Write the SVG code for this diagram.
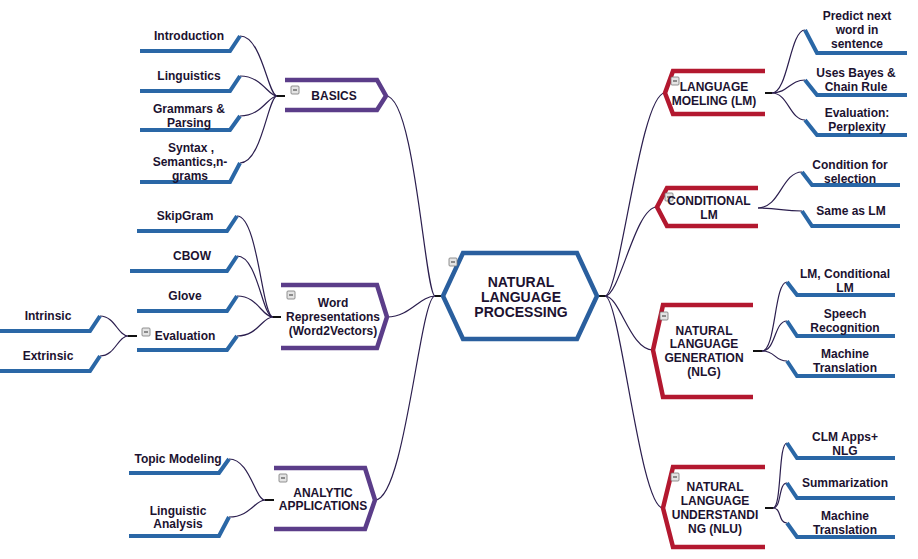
<svg xmlns="http://www.w3.org/2000/svg" width="918" height="559" viewBox="0 0 918 559">
<style>
text{font-family:"Liberation Sans",Arial,sans-serif;font-weight:bold;font-size:12px;fill:#1c1230;text-anchor:middle}
.big{font-size:14px}
.leaf{fill:none;stroke:#2a67a6;stroke-width:4;stroke-linejoin:miter}
.pur{fill:none;stroke:#5b3d89;stroke-width:4.5}
.red{fill:none;stroke:#b3182f;stroke-width:4.5}
.ctr{fill:#fff;stroke:#2a5f9e;stroke-width:4.5}
.con path{fill:none;stroke:#2b1e4e;stroke-width:1.2}
.stub{stroke:#111;stroke-width:2}
.ico{fill:#e4e4e4;stroke:#777;stroke-width:0.8}
.icol{stroke:#333;stroke-width:1}
</style>
<defs>
<g id="ic"><rect class="ico" x="0" y="0" width="8" height="8" rx="1"/><line class="icol" x1="2" y1="4" x2="6" y2="4"/></g>
</defs>
<g id="connectors" class="con">
<line class="stub" x1="435" y1="296" x2="443" y2="296"/>
<line class="stub" x1="597" y1="296" x2="605" y2="296"/>
<line class="stub" x1="277" y1="96" x2="285" y2="96"/>
<line class="stub" x1="273" y1="317" x2="281" y2="317"/>
<line class="stub" x1="128" y1="336" x2="137" y2="336"/>
<line class="stub" x1="265" y1="500" x2="274" y2="500"/>
<line class="stub" x1="765" y1="93" x2="772" y2="93"/>
<line class="stub" x1="753" y1="351" x2="762" y2="351"/>
<line class="stub" x1="765" y1="508" x2="773" y2="508"/>
<path d="M386 96 C415 96 425 296 435 296"/>
<path d="M387 317 C410 317 420 296 435 296"/>
<path d="M375 500 C405 500 420 296 435 296"/>
<path d="M605 296 C620 296 640 93 665 93"/>
<path d="M605 296 C620 296 635 207 657 207"/>
<path d="M605 296 C620 296 630 350 653 350"/>
<path d="M605 296 C620 296 640 508 663 508"/>
<path d="M240 36 C262 36 268 96 277 96"/>
<path d="M240 76 C262 76 268 96 277 96"/>
<path d="M240 116 C262 116 268 96 277 96"/>
<path d="M240 163 C262 163 268 96 277 96"/>
<path d="M237 216 C258 216 262 317 273 317"/>
<path d="M237 256 C258 256 262 317 273 317"/>
<path d="M237 296 C258 296 262 317 273 317"/>
<path d="M237 336 C258 336 262 317 273 317"/>
<path d="M100 316 C115 316 118 336 128 336"/>
<path d="M100 356 C115 356 118 336 128 336"/>
<path d="M229 459 C250 459 255 500 265 500"/>
<path d="M229 517 C250 517 255 500 265 500"/>
<path d="M772 93 C788 93 790 30 805 30"/>
<path d="M772 93 C788 93 790 80 805 80"/>
<path d="M772 93 C788 93 790 120 805 120"/>
<path d="M758 208 C780 208 782 172 802 172"/>
<path d="M758 208 C780 208 782 211 802 211"/>
<path d="M762 351 C776 351 774 282 787 282"/>
<path d="M762 351 C776 351 774 321 787 321"/>
<path d="M762 351 C776 351 774 361 787 361"/>
<path d="M773 508 C782 508 778 443 787 443"/>
<path d="M773 508 C782 508 778 483 787 483"/>
<path d="M773 508 C782 508 778 523 787 523"/>
</g>
<g id="center">
<polygon class="ctr" points="443,296 463,253 577,253 597,296 577,339 463,339"/>
<use href="#ic" x="449" y="258"/>
<text class="big" x="521" y="287">NATURAL</text>
<text class="big" x="521" y="302">LANGUAGE</text>
<text class="big" x="521" y="317">PROCESSING</text>
</g>
<g id="basics">
<path class="pur" d="M285 80 L377 80 L386 96 L377 110 L285 110"/>
<use href="#ic" x="291" y="86"/>
<text x="334" y="100">BASICS</text>
</g>
<g id="introduction"><path class="leaf" d="M140 51 L230 51 L240 36"/><text x="189" y="40">Introduction</text></g>
<g id="linguistics"><path class="leaf" d="M140 91 L230 91 L240 76"/><text x="189" y="80">Linguistics</text></g>
<g id="grammars"><path class="leaf" d="M140 130 L230 130 L240 116"/><text x="189" y="113">Grammars &amp;</text><text x="189" y="127">Parsing</text></g>
<g id="syntax"><path class="leaf" d="M140 182 L230 182 L240 163"/><text x="191" y="152">Syntax ,</text><text x="190" y="166">Semantics,n-</text><text x="190" y="180">grams</text></g>
<g id="wordrep">
<path class="pur" d="M281 285 L377 285 L387 317 L377 348 L281 348"/>
<use href="#ic" x="287" y="291"/>
<text x="333" y="307">Word</text>
<text x="333" y="321">Representations</text>
<text x="333" y="335">(Word2Vectors)</text>
</g>
<g id="skipgram"><path class="leaf" d="M137 231 L227 231 L237 216"/><text x="185" y="220">SkipGram</text></g>
<g id="cbow"><path class="leaf" d="M130 271 L227 271 L237 256"/><text x="192" y="260">CBOW</text></g>
<g id="glove"><path class="leaf" d="M137 311 L227 311 L237 296"/><text x="185" y="300">Glove</text></g>
<g id="evaluation"><path class="leaf" d="M137 350 L227 350 L237 336"/><use href="#ic" x="142" y="328"/><text x="185" y="340">Evaluation</text></g>
<g id="intrinsic"><path class="leaf" d="M0 331 L90 331 L100 316"/><text x="48" y="320">Intrinsic</text></g>
<g id="extrinsic"><path class="leaf" d="M0 371 L90 371 L100 356"/><text x="48" y="360">Extrinsic</text></g>
<g id="analytic">
<path class="pur" d="M274 468 L365 468 L375 500 L365 529 L274 529"/>
<use href="#ic" x="279" y="474"/>
<text x="323" y="497">ANALYTIC</text>
<text x="323" y="510">APPLICATIONS</text>
</g>
<g id="topic"><path class="leaf" d="M129 473 L219 473 L229 459"/><text x="178" y="463">Topic Modeling</text></g>
<g id="linganalysis"><path class="leaf" d="M129 536 L219 536 L229 517"/><text x="178" y="515">Linguistic</text><text x="178" y="528">Analysis</text></g>
<g id="lm">
<path class="red" d="M765 71 L673 71 L665 93 L673 114 L765 114"/>
<use href="#ic" x="671" y="77"/>
<text x="714" y="91">LANGUAGE</text>
<text x="714" y="105">MOELING (LM)</text>
</g>
<g id="predict"><path class="leaf" d="M805 30 L817 53 L907 53"/><text x="857" y="20">Predict next</text><text x="857" y="34">word in</text><text x="857" y="48">sentence</text></g>
<g id="bayes"><path class="leaf" d="M805 80 L817 95 L907 95"/><text x="856" y="77">Uses Bayes &amp;</text><text x="856" y="91">Chain Rule</text></g>
<g id="perplexity"><path class="leaf" d="M805 120 L817 135 L907 135"/><text x="857" y="117">Evaluation:</text><text x="857" y="131">Perplexity</text></g>
<g id="conditional">
<path class="red" d="M758 188 L667 188 L657 207 L667 226 L758 226"/>
<use href="#ic" x="665" y="193"/>
<text x="709" y="205">CONDITIONAL</text>
<text x="709" y="219">LM</text>
</g>
<g id="condsel"><path class="leaf" d="M802 172 L812 185 L900 185"/><text x="850" y="169">Condition for</text><text x="850" y="183">selection</text></g>
<g id="sameaslm"><path class="leaf" d="M802 211 L812 226 L900 226"/><text x="851" y="215">Same as LM</text></g>
<g id="nlg">
<path class="red" d="M753 305 L663 305 L653 350 L663 397 L753 397"/>
<use href="#ic" x="660" y="312"/>
<text x="704" y="335">NATURAL</text>
<text x="704" y="348">LANGUAGE</text>
<text x="704" y="362">GENERATION</text>
<text x="704" y="376">(NLG)</text>
</g>
<g id="lmcond"><path class="leaf" d="M787 282 L797 295 L895 295"/><text x="845" y="278">LM, Conditional</text><text x="845" y="292">LM</text></g>
<g id="speech"><path class="leaf" d="M787 321 L797 336 L895 336"/><text x="845" y="318">Speech</text><text x="845" y="332">Recognition</text></g>
<g id="mt1"><path class="leaf" d="M787 361 L797 376 L895 376"/><text x="845" y="358">Machine</text><text x="845" y="372">Translation</text></g>
<g id="nlu">
<path class="red" d="M765 467 L673 467 L663 508 L673 547 L765 547"/>
<use href="#ic" x="671" y="473"/>
<text x="715" y="491">NATURAL</text>
<text x="715" y="505">LANGUAGE</text>
<text x="715" y="519">UNDERSTANDI</text>
<text x="715" y="533">NG (NLU)</text>
</g>
<g id="clmapps"><path class="leaf" d="M787 443 L797 458 L895 458"/><text x="845" y="441">CLM Apps+</text><text x="845" y="455">NLG</text></g>
<g id="summarization"><path class="leaf" d="M787 483 L797 498 L895 498"/><text x="845" y="487">Summarization</text></g>
<g id="mt2"><path class="leaf" d="M787 523 L797 537 L895 537"/><text x="845" y="520">Machine</text><text x="845" y="534">Translation</text></g>
</svg>
